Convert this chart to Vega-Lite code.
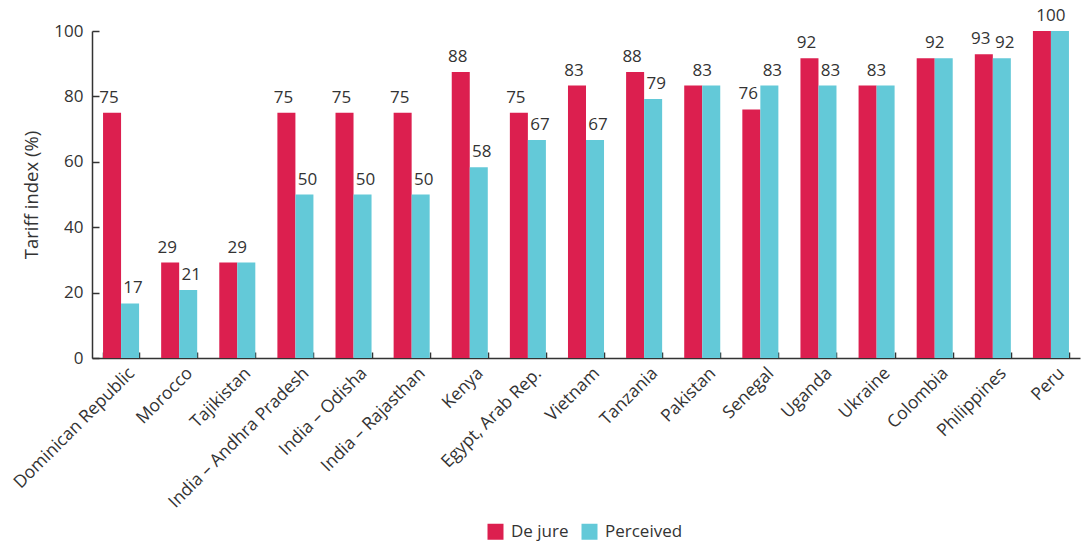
{
  "$schema": "https://vega.github.io/schema/vega-lite/v6.json",
  "width": 988,
  "height": 327,
  "autosize": {"type": "none"},
  "padding": {"left": 92, "top": 31, "right": 1, "bottom": 188},
  "config": {
    "view": {"stroke": null},
    "font": "Open Sans",
    "axis": {"labelColor": "#333333", "titleColor": "#333333", "domainColor": "#333333", "tickColor": "#333333", "grid": false, "labelFont": "Open Sans", "titleFont": "Open Sans"},
    "legend": {"labelFont": "Open Sans"}
  },
  "datasets": {
    "bars": [
      {"country": "Dominican Republic", "series": "De jure", "value": 75},
      {"country": "Dominican Republic", "series": "Perceived", "value": 16.67},
      {"country": "Morocco", "series": "De jure", "value": 29.17},
      {"country": "Morocco", "series": "Perceived", "value": 20.83},
      {"country": "Tajikistan", "series": "De jure", "value": 29.17},
      {"country": "Tajikistan", "series": "Perceived", "value": 29.17},
      {"country": "India – Andhra Pradesh", "series": "De jure", "value": 75},
      {"country": "India – Andhra Pradesh", "series": "Perceived", "value": 50},
      {"country": "India – Odisha", "series": "De jure", "value": 75},
      {"country": "India – Odisha", "series": "Perceived", "value": 50},
      {"country": "India – Rajasthan", "series": "De jure", "value": 75},
      {"country": "India – Rajasthan", "series": "Perceived", "value": 50},
      {"country": "Kenya", "series": "De jure", "value": 87.5},
      {"country": "Kenya", "series": "Perceived", "value": 58.33},
      {"country": "Egypt, Arab Rep.", "series": "De jure", "value": 75},
      {"country": "Egypt, Arab Rep.", "series": "Perceived", "value": 66.67},
      {"country": "Vietnam", "series": "De jure", "value": 83.33},
      {"country": "Vietnam", "series": "Perceived", "value": 66.67},
      {"country": "Tanzania", "series": "De jure", "value": 87.5},
      {"country": "Tanzania", "series": "Perceived", "value": 79.17},
      {"country": "Pakistan", "series": "De jure", "value": 83.33},
      {"country": "Pakistan", "series": "Perceived", "value": 83.33},
      {"country": "Senegal", "series": "De jure", "value": 76},
      {"country": "Senegal", "series": "Perceived", "value": 83.33},
      {"country": "Uganda", "series": "De jure", "value": 91.67},
      {"country": "Uganda", "series": "Perceived", "value": 83.33},
      {"country": "Ukraine", "series": "De jure", "value": 83.33},
      {"country": "Ukraine", "series": "Perceived", "value": 83.33},
      {"country": "Colombia", "series": "De jure", "value": 91.67},
      {"country": "Colombia", "series": "Perceived", "value": 91.67},
      {"country": "Philippines", "series": "De jure", "value": 92.86},
      {"country": "Philippines", "series": "Perceived", "value": 91.67},
      {"country": "Peru", "series": "De jure", "value": 100},
      {"country": "Peru", "series": "Perceived", "value": 100}
    ],
    "labels": [
      {"country": "Dominican Republic", "pos": "De jure", "value": 75, "label": "75"},
      {"country": "Dominican Republic", "pos": "Perceived", "value": 16.67, "label": "17"},
      {"country": "Morocco", "pos": "De jure", "value": 29.17, "label": "29"},
      {"country": "Morocco", "pos": "Perceived", "value": 20.83, "label": "21"},
      {"country": "Tajikistan", "pos": "Both", "value": 29.17, "label": "29"},
      {"country": "India – Andhra Pradesh", "pos": "De jure", "value": 75, "label": "75"},
      {"country": "India – Andhra Pradesh", "pos": "Perceived", "value": 50, "label": "50"},
      {"country": "India – Odisha", "pos": "De jure", "value": 75, "label": "75"},
      {"country": "India – Odisha", "pos": "Perceived", "value": 50, "label": "50"},
      {"country": "India – Rajasthan", "pos": "De jure", "value": 75, "label": "75"},
      {"country": "India – Rajasthan", "pos": "Perceived", "value": 50, "label": "50"},
      {"country": "Kenya", "pos": "De jure", "value": 87.5, "label": "88"},
      {"country": "Kenya", "pos": "Perceived", "value": 58.33, "label": "58"},
      {"country": "Egypt, Arab Rep.", "pos": "De jure", "value": 75, "label": "75"},
      {"country": "Egypt, Arab Rep.", "pos": "Perceived", "value": 66.67, "label": "67"},
      {"country": "Vietnam", "pos": "De jure", "value": 83.33, "label": "83"},
      {"country": "Vietnam", "pos": "Perceived", "value": 66.67, "label": "67"},
      {"country": "Tanzania", "pos": "De jure", "value": 87.5, "label": "88"},
      {"country": "Tanzania", "pos": "Perceived", "value": 79.17, "label": "79"},
      {"country": "Pakistan", "pos": "Both", "value": 83.33, "label": "83"},
      {"country": "Senegal", "pos": "De jure", "value": 76, "label": "76"},
      {"country": "Senegal", "pos": "Perceived", "value": 83.33, "label": "83"},
      {"country": "Uganda", "pos": "De jure", "value": 91.67, "label": "92"},
      {"country": "Uganda", "pos": "Perceived", "value": 83.33, "label": "83"},
      {"country": "Ukraine", "pos": "Both", "value": 83.33, "label": "83"},
      {"country": "Colombia", "pos": "Both", "value": 91.67, "label": "92"},
      {"country": "Philippines", "pos": "De jure", "value": 92.86, "label": "93"},
      {"country": "Philippines", "pos": "Perceived", "value": 91.67, "label": "92"},
      {"country": "Peru", "pos": "Both", "value": 100, "label": "100"}
    ]
  },
  "layer": [
    {
      "data": {"name": "bars"},
      "mark": {"type": "bar"},
      "encoding": {
        "x": {
          "field": "country", "type": "nominal",
          "scale": {
            "domain": ["Dominican Republic", "Morocco", "Tajikistan", "India – Andhra Pradesh", "India – Odisha", "India – Rajasthan", "Kenya", "Egypt, Arab Rep.", "Vietnam", "Tanzania", "Pakistan", "Senegal", "Uganda", "Ukraine", "Colombia", "Philippines", "Peru"],
            "paddingInner": 0.38, "paddingOuter": 0.19
          },
          "axis": {"title": null, "labelAngle": -45, "labelFontSize": 17.5, "labelLimit": 400, "labelOffset": 4, "tickBand": "extent", "tickSize": -6, "labelPadding": 12, "domainWidth": 1.5, "tickWidth": 1.5}
        },
        "xOffset": {"field": "series", "type": "nominal", "scale": {"domain": ["De jure", "Perceived"], "paddingInner": 0, "paddingOuter": 0}},
        "y": {
          "field": "value", "type": "quantitative",
          "scale": {"domain": [0, 100]},
          "axis": {"title": "Tariff index (%)", "values": [0, 20, 40, 60, 80, 100], "labelFontSize": 17, "titleFontSize": 18.5, "titleFontWeight": "normal", "tickSize": -7, "labelPadding": 16, "titlePadding": 12, "domainWidth": 1.5, "tickWidth": 1.5}
        },
        "color": {
          "field": "series", "type": "nominal",
          "scale": {"domain": ["De jure", "Perceived"], "range": ["#DC1F4F", "#63C9D8"]},
          "legend": {"title": null, "orient": "none", "direction": "horizontal", "legendX": 395, "legendY": 492, "symbolType": "square", "symbolSize": 256, "symbolStrokeWidth": 0, "labelFontSize": 17, "labelColor": "#333333", "columnPadding": 12, "labelOffset": 7}
        }
      }
    },
    {
      "data": {"name": "labels"},
      "mark": {"type": "text", "baseline": "alphabetic", "dy": -10, "fontSize": 17, "color": "#333333"},
      "encoding": {
        "x": {"field": "country", "type": "nominal"},
        "xOffset": {"field": "pos", "type": "nominal", "scale": {"domain": ["De jure", "Both", "Perceived"], "paddingInner": 0, "paddingOuter": 0.5}},
        "y": {"field": "value", "type": "quantitative"},
        "text": {"field": "label"}
      }
    }
  ],
  "resolve": {"scale": {"xOffset": "independent"}}
}
